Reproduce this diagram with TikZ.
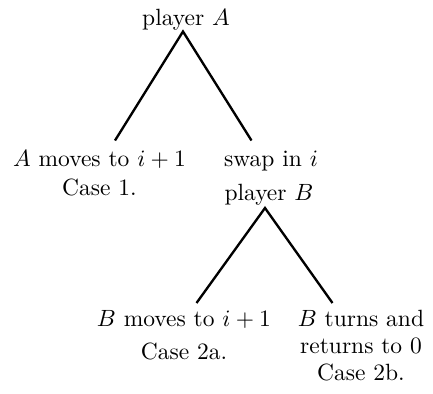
\documentclass[tikz,border=0pt]{standalone}
\usepackage{amsfonts}
\usepackage{amsmath}
\usepackage{tikz}

\begin{document}
\begin{tikzpicture}[x=0.4256pt,y=-0.4256pt,branch/.style={line width=1pt},lbl/.style={anchor=base,align=center,inner sep=0pt}]
\useasboundingbox (0,0) rectangle (433,393);
% base of a multi-line label is its last line
\node[lbl] (pA) at (186,25) {player $A$};
\node[lbl] (moveA) at (99.5,195) {$A$ moves to $i+1$\\Case 1.};
\node[lbl] (swap) at (271,166) {swap in $i$};
\node[lbl] (pB) at (269,200.5) {player $B$};
\node[lbl] (moveB) at (184,359) {$B$ moves to $i+1$\\[2pt]Case 2a.};
\node[lbl] (turnB) at (361,380.5) {$B$ turns and\\[-0.5pt]returns to 0\\[-0.5pt]Case 2b.};
\coordinate (topA) at (183,31.5);
\coordinate (endA1) at (115,140.5);
\coordinate (endA2) at (251.5,140.5);
\coordinate (topB) at (265,208);
\coordinate (endB1) at (196.5,303);
\coordinate (endB2) at (332.5,303);
\draw[branch] (endA1) -- (topA) -- (endA2);
\draw[branch] (endB1) -- (topB) -- (endB2);
\end{tikzpicture}
\end{document}
